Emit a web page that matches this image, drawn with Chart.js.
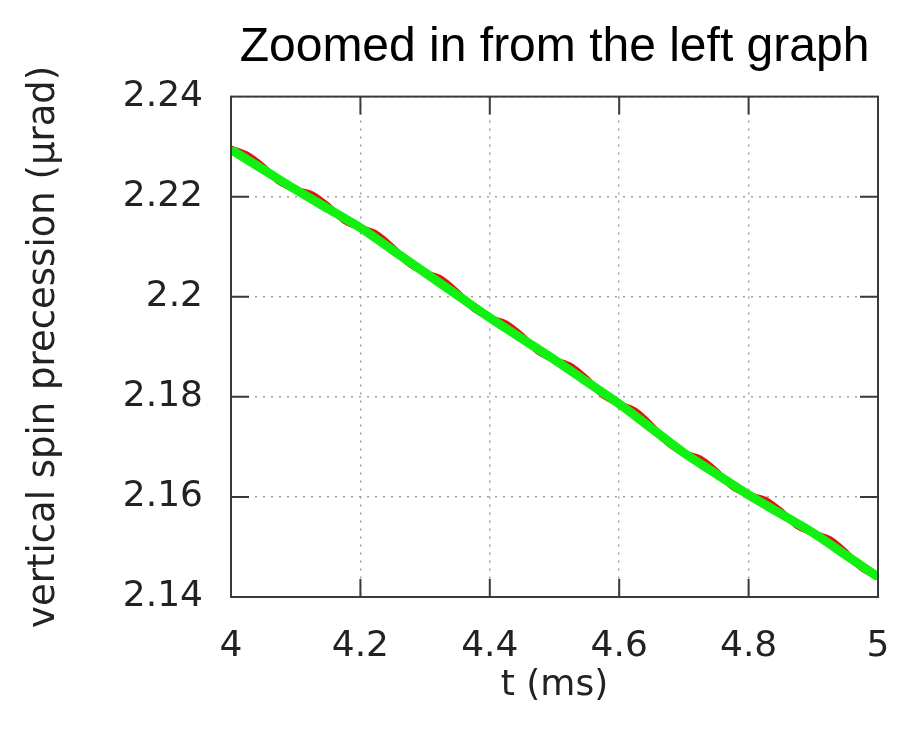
<!DOCTYPE html>
<html>
<head>
<meta charset="utf-8">
<script src="https://cdn.jsdelivr.net/npm/chart.js@4/dist/chart.umd.min.js"></script>
<style>
html,body{margin:0;padding:0;background:#fff;}
canvas{display:block;}
</style>
</head>
<body>
<canvas id="c" width="908" height="729"></canvas>
<script>
// ---- data ----
const greenT = [4.00,4.05,4.10,4.15,4.20,4.25,4.30,4.35,4.40,4.45,4.50,4.55,4.60,4.65,4.70,4.75,4.80,4.85,4.90,4.95,5.00];
const greenV = [2.2294,2.2254,2.2214,2.2176,2.2138,2.2093,2.2048,2.2003,2.1958,2.1916,2.1874,2.1830,2.1786,2.1737,2.1688,2.1646,2.1604,2.1566,2.1528,2.1484,2.1440];
const redT = [4.000,4.025,4.050,4.075,4.100,4.125,4.150,4.175,4.200,4.225,4.250,4.275,4.300,4.325,4.350,4.375,4.400,4.425,4.450,4.475,4.500,4.525,4.550,4.575,4.600,4.625,4.650,4.675,4.700,4.725,4.750,4.775,4.800,4.825,4.850,4.875,4.900,4.925,4.950,4.975,5.000];
const redV = [2.2296,2.2284,2.2260,2.2229,2.2214,2.2205,2.2182,2.2152,2.2138,2.2126,2.2099,2.2066,2.2048,2.2036,2.2009,2.1976,2.1958,2.1947,2.1922,2.1890,2.1874,2.1862,2.1836,2.1803,2.1786,2.1772,2.1743,2.1708,2.1688,2.1677,2.1652,2.1620,2.1604,2.1595,2.1572,2.1542,2.1528,2.1516,2.1490,2.1457,2.1440];
const xTickLabels = ["4","4.2","4.4","4.6","4.8","5"];
const yTickLabels = ["2.14","2.16","2.18","2.2","2.22","2.24"];
const titleText = "Zoomed in from the left graph";
const xTitle = "t (ms)";
const yTitle = "vertical spin precession (\u00b5rad)";

const green = greenT.map((t,i)=>({x:t,y:greenV[i]}));
const red = redT.map((t,i)=>({x:t,y:redV[i]}));

const frame = {
  id:'frame',
  afterDatasetsDraw(chart){
    const {ctx, chartArea:{left,right,top,bottom}, scales:{x,y}} = chart;
    ctx.save();
    ctx.strokeStyle='#3a3a3a';
    ctx.lineWidth=2;
    ctx.setLineDash([]);
    ctx.strokeRect(left,top,right-left,bottom-top);
    const L=18;
    ctx.beginPath();
    x.ticks.forEach(t=>{
      const p=x.getPixelForValue(t.value);
      if(p>left+2 && p<right-2){
        ctx.moveTo(p,bottom); ctx.lineTo(p,bottom-L);
        ctx.moveTo(p,top); ctx.lineTo(p,top+L);
      }
    });
    y.ticks.forEach(t=>{
      const p=y.getPixelForValue(t.value);
      if(p>top+2 && p<bottom-2){
        ctx.moveTo(left,p); ctx.lineTo(left+L,p);
        ctx.moveTo(right,p); ctx.lineTo(right-L,p);
      }
    });
    ctx.stroke();
    ctx.restore();
  }
};

new Chart(document.getElementById('c'),{
  type:'line',
  data:{datasets:[
    {label:'g',data:green,borderColor:'#12f012',borderWidth:9,pointRadius:0,tension:0.3,fill:false},
    {label:'r',data:red,borderColor:'#e01414',borderWidth:6,pointRadius:0,tension:0.3,fill:false}
  ]},
  options:{
    responsive:false,
    animation:false,
    events:[],
    layout:{padding:{left:0,right:30,top:0,bottom:0}},
    plugins:{
      legend:{display:false},
      tooltip:{enabled:false},
      title:{display:true,text:titleText,fullSize:false,color:'#000',
        font:{family:'Liberation Sans',size:48,weight:'normal',lineHeight:1.2},
        padding:{top:19,bottom:20}}
    },
    scales:{
      x:{type:'linear',min:4,max:5,
        afterFit(s){s.height=132;s.paddingLeft=0;s.paddingRight=0;},
        ticks:{stepSize:0.2,padding:28,color:'#222',maxRotation:0,
          font:{family:'DejaVu Sans',size:36},
          callback:(v,i)=>xTickLabels[i]},
        grid:{color:'#a0a0a0',lineWidth:1.5,drawTicks:false},
        border:{display:false,dash:[2,6]},
        title:{display:true,text:xTitle,color:'#222',font:{family:'DejaVu Sans',size:36},padding:{top:0,bottom:22}}
      },
      y:{type:'linear',min:2.14,max:2.24,
        afterFit(s){s.width=231;s.paddingTop=0;s.paddingBottom=0;},
        ticks:{stepSize:0.02,padding:28,color:'#222',
          font:{family:'DejaVu Sans',size:36},
          callback:(v,i)=>yTickLabels[i]},
        grid:{color:'#a0a0a0',lineWidth:1.5,drawTicks:false},
        border:{display:false,dash:[2,6]},
        title:{display:true,text:yTitle,color:'#222',font:{family:'DejaVu Sans',size:37},padding:{top:22,bottom:0}}
      }
    }
  },
  plugins:[frame]
});
</script>
</body>
</html>
